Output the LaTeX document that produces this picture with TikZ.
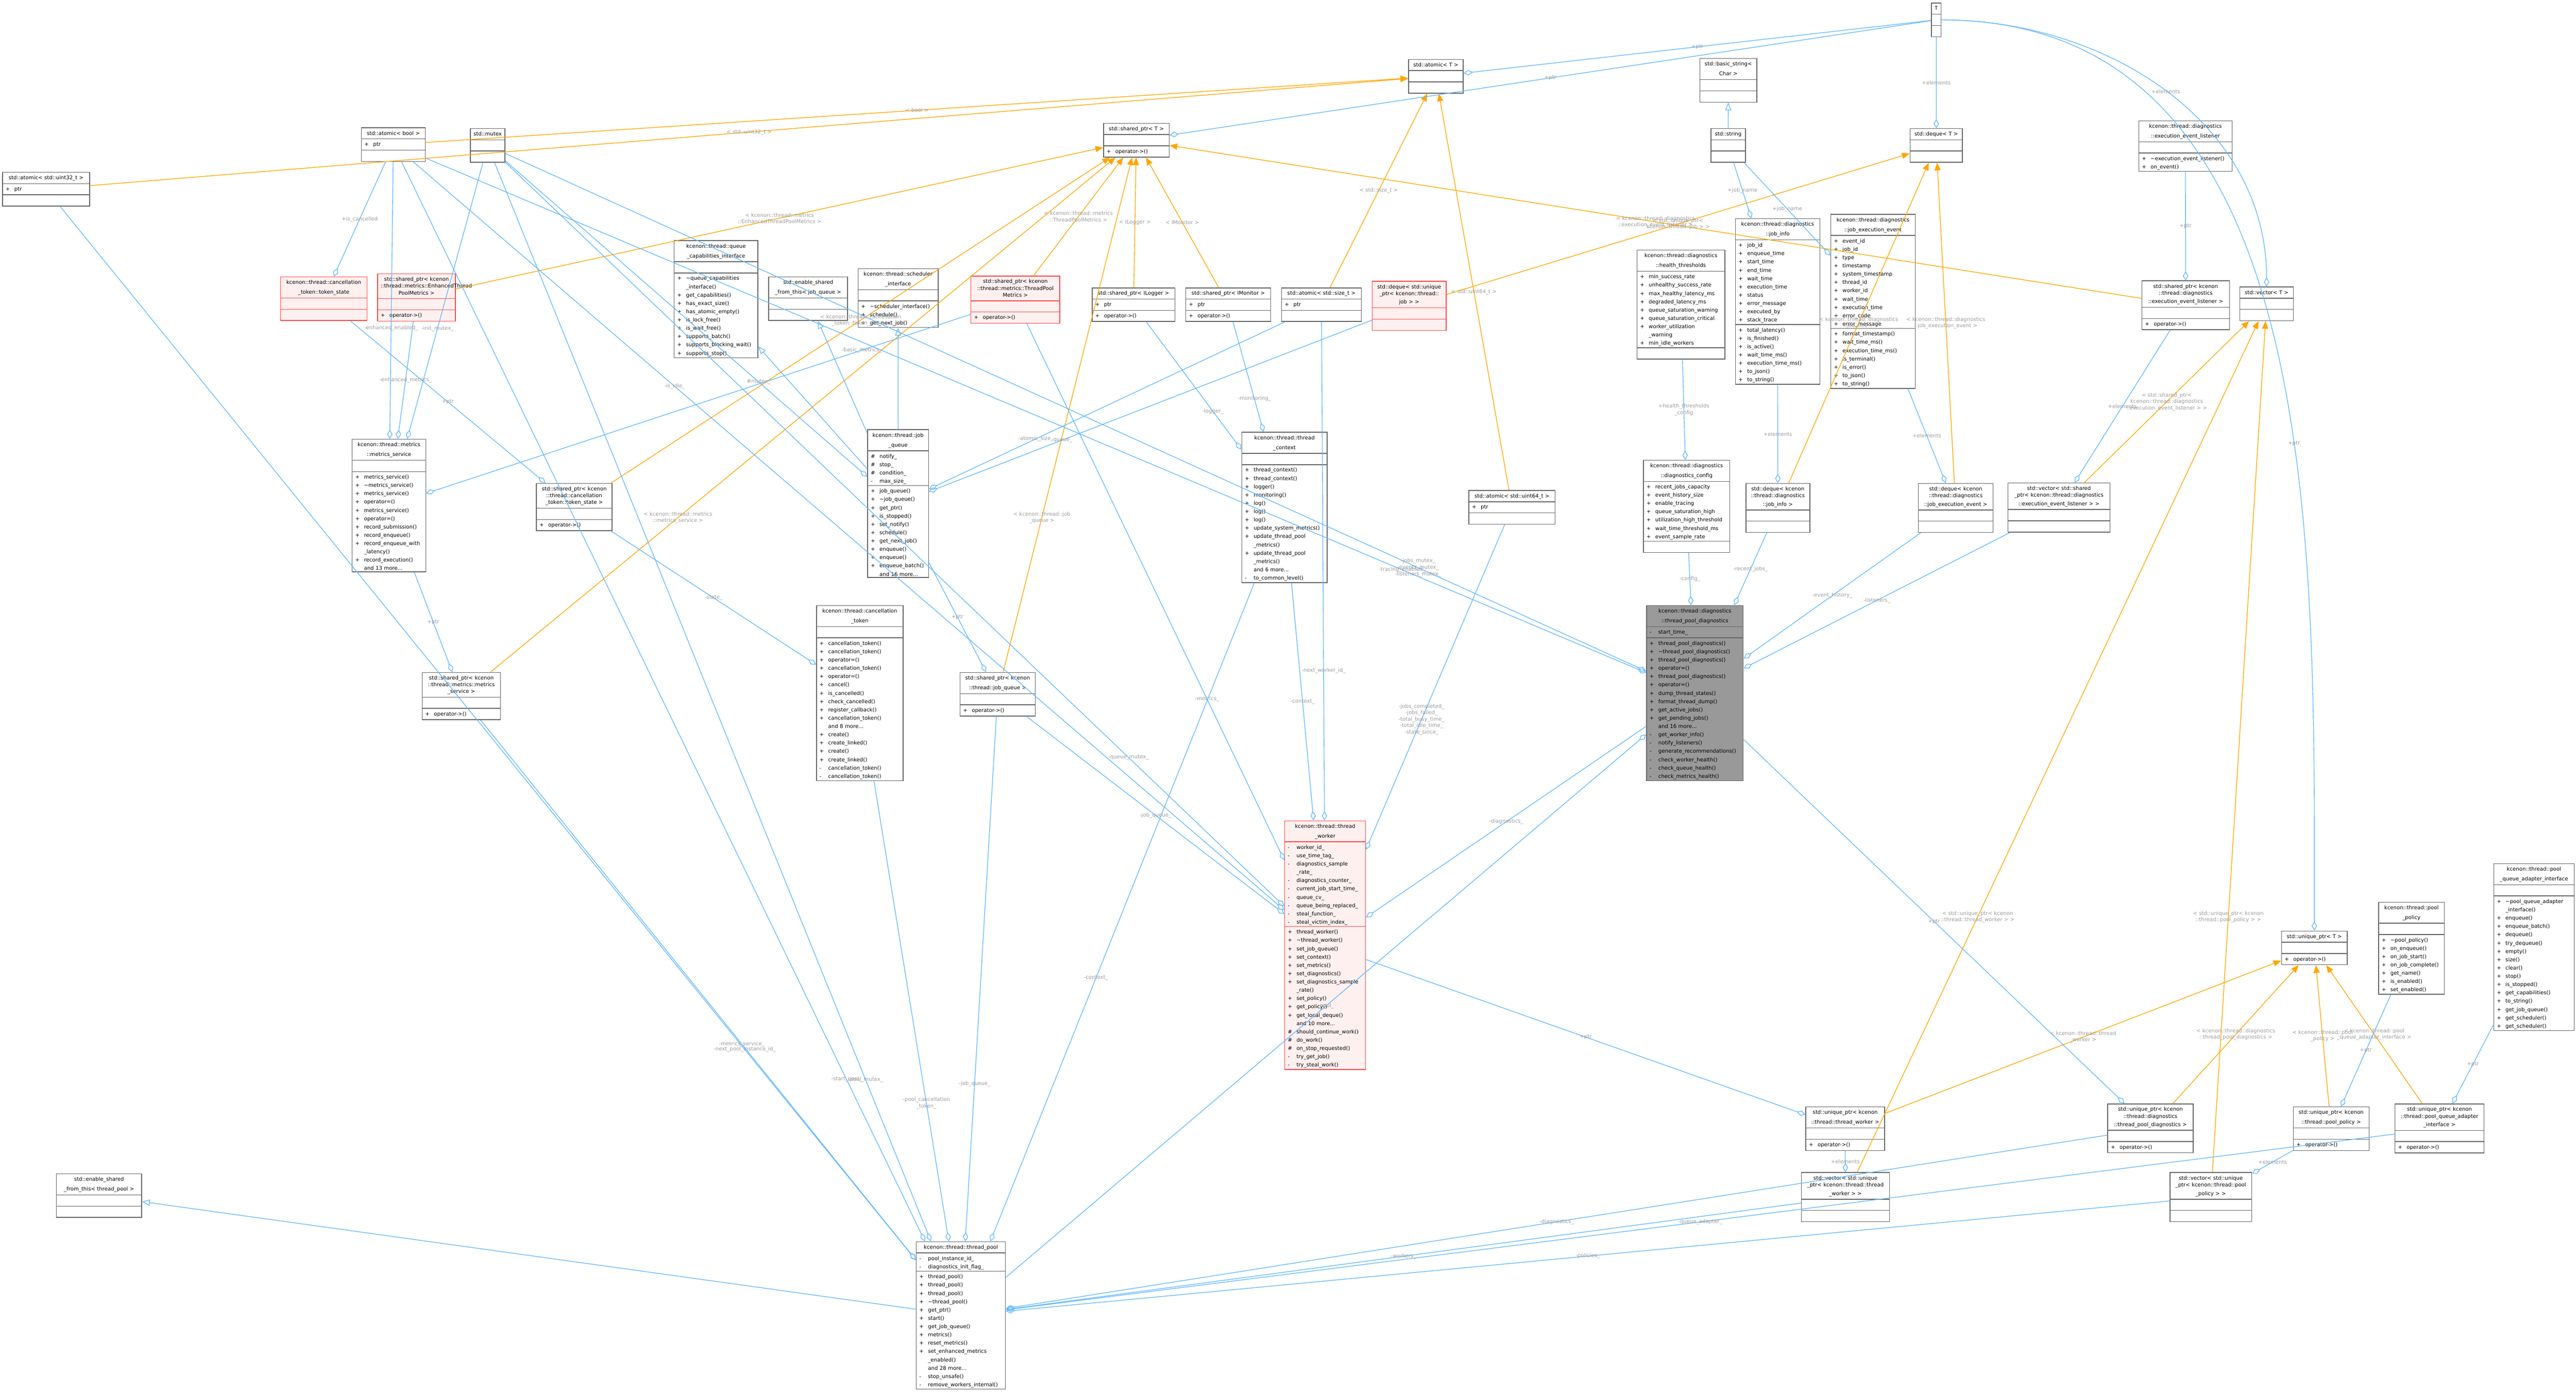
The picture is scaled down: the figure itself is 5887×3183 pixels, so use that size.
\documentclass[tikz,border=0pt]{standalone}
\usepackage{fontspec}
\setmainfont{DejaVu Sans}
\usetikzlibrary{shapes.multipart,arrows.meta}
\definecolor{ublue}{HTML}{63B8FF}
\definecolor{uorange}{HTML}{FFA500}
\definecolor{ulbl}{HTML}{9A9A9A}
\definecolor{uedge}{HTML}{666666}
\definecolor{ured}{HTML}{FF4444}
\definecolor{upink}{HTML}{FFF0F0}
\definecolor{ugray}{HTML}{999999}
% member rows
\newcommand{\pb}[1]{\makebox[2mm][l]{+}#1}
\newcommand{\pv}[1]{\makebox[2mm][l]{-}#1}
\newcommand{\pt}[1]{\makebox[2mm][l]{\#}#1}
\newcommand{\pn}[1]{\makebox[2mm][l]{}#1}
\tikzset{
  cls/.style={rectangle split,rectangle split parts=3,draw=uedge,fill=white,line width=0.5pt,
    anchor=north west,inner xsep=2pt,inner ysep=0.7pt,
    font=\fontsize{3.4}{5.4}\selectfont},
  hot/.style={draw=ured,fill=upink},
  main/.style={fill=ugray},
  use/.style={draw=ublue,line width=0.45pt,-{Diamond[open,length=6pt,width=3.5pt]}},
  inh/.style={draw=ublue,line width=0.45pt,-{Triangle[open,length=5pt,width=4pt]}},
  tmpl/.style={draw=uorange,line width=0.45pt,-{Triangle[length=5pt,width=4pt]}},
  lbl/.style={text=ulbl,font=\fontsize{3.4}{4.2}\selectfont,align=center}
}
% name, x, y, width (px), title, attributes, operations, style
\newcommand{\umlclass}[8]{%
  \pgfmathsetmacro\clsw{#4*0.01-0.14}%
  \node[cls,#8,text width=\clsw cm] (#1) at (#2,#3)
    {\parbox{\clsw cm}{\centering\baselineskip=4.4pt\strut #5\strut}%
     \nodepart{two}\strut #6\nodepart{three}\strut #7};}
\begin{document}
\begin{tikzpicture}[x=0.01cm,y=-0.01cm]
\useasboundingbox (0,0) rectangle (5887,3183);

% templates and std types
\umlclass{T}{4413}{6}{22}{T}{}{}{}
\umlclass{atomT}{3218}{135}{125}{std::atomic< T >}{}{}{}
\umlclass{sptrT}{2521}{281}{150}{std::shared\_ptr< T >}{}{\pb{operator->()}}{}
\umlclass{bstr}{3884}{133}{130}{std::basic\_string<\\Char >}{}{}{}
\umlclass{stdstr}{3909}{293}{79}{std::string}{}{}{}
\umlclass{dequeT}{4364}{293}{120}{std::deque< T >}{}{}{}
\umlclass{vectorT}{5118}{655}{122}{std::vector< T >}{}{}{}
\umlclass{uptrT}{5213}{2127}{150}{std::unique\_ptr< T >}{}{\pb{operator->()}}{}
\umlclass{au32}{5}{393}{199}{std::atomic< std::uint32\_t >}{\pb{ptr}}{}{}
\umlclass{abool}{825}{291}{146}{std::atomic< bool >}{\pb{ptr}}{}{}
\umlclass{mutex}{1074}{293}{79}{std::mutex}{}{}{}
\umlclass{asize}{2928}{657}{182}{std::atomic< std::size\_t >}{\pb{ptr}}{}{}
\umlclass{au64}{3356}{1120}{197}{std::atomic< std::uint64\_t >}{\pb{ptr}}{}{}

% shared pointers
\umlclass{sptrEnh}{862}{625}{178}{std::shared\_ptr< kcenon\\::thread::metrics::EnhancedThread\\PoolMetrics >}{}{\pb{operator->()}}{hot}
\umlclass{sptrTPM}{2218}{630}{203}{std::shared\_ptr< kcenon\\::thread::metrics::ThreadPool\\Metrics >}{}{\pb{operator->()}}{hot}
\umlclass{sptrLog}{2495}{657}{189}{std::shared\_ptr< ILogger >}{\pb{ptr}}{\pb{operator->()}}{}
\umlclass{sptrMon}{2709}{657}{194}{std::shared\_ptr< IMonitor >}{\pb{ptr}}{\pb{operator->()}}{}
\umlclass{dqjob}{3135}{642}{169}{std::deque< std::unique\\\_ptr< kcenon::thread::\\job > >}{}{}{hot}
\umlclass{sptrTok}{1225}{1104}{173}{std::shared\_ptr< kcenon\\::thread::cancellation\\\_token::token\_state >}{}{\pb{operator->()}}{}
\umlclass{sptrMS}{964}{1536}{179}{std::shared\_ptr< kcenon\\::thread::metrics::metrics\\\_service >}{}{\pb{operator->()}}{}
\umlclass{sptrJQ}{2193}{1536}{172}{std::shared\_ptr< kcenon\\::thread::job\_queue >}{}{\pb{operator->()}}{}

% interfaces
\umlclass{tokstate}{640}{632}{198}{kcenon::thread::cancellation\\\_token::token\_state}{}{}{hot}
\umlclass{qcap}{1540}{549}{191}{kcenon::thread::queue\\\_capabilities\_interface}{}{\pb{\textasciitilde queue\_capabilities\\\pn{\_interface()}}\\\pb{get\_capabilities()}\\\pb{has\_exact\_size()}\\\pb{has\_atomic\_empty()}\\\pb{is\_lock\_free()}\\\pb{is\_wait\_free()}\\\pb{supports\_batch()}\\\pb{supports\_blocking\_wait()}\\\pb{supports\_stop()}}{}
\umlclass{esfJQ}{1756}{632}{180}{std::enable\_shared\\\_from\_this< job\_queue >}{}{}{}
\umlclass{sched}{1960}{613}{183}{kcenon::thread::scheduler\\\_interface}{}{\pb{\textasciitilde scheduler\_interface()}\\\pb{schedule()}\\\pb{get\_next\_job()}}{}
\umlclass{esfTP}{128}{2682}{195}{std::enable\_shared\\\_from\_this< thread\_pool >}{}{}{}

% diagnostics data
\umlclass{listener}{4887}{275}{213}{kcenon::thread::diagnostics\\::execution\_event\_listener}{}{\pb{\textasciitilde execution\_event\_listener()}\\\pb{on\_event()}}{}
\umlclass{slistener}{4894}{641}{200}{std::shared\_ptr< kcenon\\::thread::diagnostics\\::execution\_event\_listener >}{}{\pb{operator->()}}{}
\umlclass{hthr}{3740}{571}{201}{kcenon::thread::diagnostics\\::health\_thresholds}{\pb{min\_success\_rate}\\\pb{unhealthy\_success\_rate}\\\pb{max\_healthy\_latency\_ms}\\\pb{degraded\_latency\_ms}\\\pb{queue\_saturation\_warning}\\\pb{queue\_saturation\_critical}\\\pb{worker\_utilization}\\\pn{\_warning}\\\pb{min\_idle\_workers}}{}{}
\umlclass{jinfo}{3965}{499}{193}{kcenon::thread::diagnostics\\::job\_info}{\pb{job\_id}\\\pb{enqueue\_time}\\\pb{start\_time}\\\pb{end\_time}\\\pb{wait\_time}\\\pb{execution\_time}\\\pb{status}\\\pb{error\_message}\\\pb{executed\_by}\\\pb{stack\_trace}}{\pb{total\_latency()}\\\pb{is\_finished()}\\\pb{is\_active()}\\\pb{wait\_time\_ms()}\\\pb{execution\_time\_ms()}\\\pb{to\_json()}\\\pb{to\_string()}}{}
\umlclass{jevent}{4183}{489}{193}{kcenon::thread::diagnostics\\::job\_execution\_event}{\pb{event\_id}\\\pb{job\_id}\\\pb{type}\\\pb{timestamp}\\\pb{system\_timestamp}\\\pb{thread\_id}\\\pb{worker\_id}\\\pb{wait\_time}\\\pb{execution\_time}\\\pb{error\_code}\\\pb{error\_message}}{\pb{format\_timestamp()}\\\pb{wait\_time\_ms()}\\\pb{execution\_time\_ms()}\\\pb{is\_terminal()}\\\pb{is\_error()}\\\pb{to\_json()}\\\pb{to\_string()}}{}
\umlclass{dconf}{3755}{1051}{197}{kcenon::thread::diagnostics\\::diagnostics\_config}{\pb{recent\_jobs\_capacity}\\\pb{event\_history\_size}\\\pb{enable\_tracing}\\\pb{queue\_saturation\_high}\\\pb{utilization\_high\_threshold}\\\pb{wait\_time\_threshold\_ms}\\\pb{event\_sample\_rate}}{}{}
\umlclass{dqinfo}{3989}{1104}{146}{std::deque< kcenon\\::thread::diagnostics\\::job\_info >}{}{}{}
\umlclass{dqevent}{4383}{1104}{171}{std::deque< kcenon\\::thread::diagnostics\\::job\_execution\_event >}{}{}{}
\umlclass{vlisten}{4588}{1103}{233}{std::vector< std::shared\\\_ptr< kcenon::thread::diagnostics\\::execution\_event\_listener > >}{}{}{}

% core classes
\umlclass{msvc}{804}{1003}{168}{kcenon::thread::metrics\\::metrics\_service}{}{\pb{metrics\_service()}\\\pb{\textasciitilde metrics\_service()}\\\pb{metrics\_service()}\\\pb{operator=()}\\\pb{metrics\_service()}\\\pb{operator=()}\\\pb{record\_submission()}\\\pb{record\_enqueue()}\\\pb{record\_enqueue\_with}\\\pn{\_latency()}\\\pb{record\_execution()}\\\pn{and 13 more...}}{}
\umlclass{jqueue}{1982}{981}{139}{kcenon::thread::job\\\_queue}{\pt{notify\_}\\\pt{stop\_}\\\pt{condition\_}\\\pv{max\_size\_}}{\pb{job\_queue()}\\\pb{\textasciitilde job\_queue()}\\\pb{get\_ptr()}\\\pb{is\_stopped()}\\\pb{set\_notify()}\\\pb{schedule()}\\\pb{get\_next\_job()}\\\pb{enqueue()}\\\pb{enqueue()}\\\pb{enqueue\_batch()}\\\pn{and 16 more...}}{}
\umlclass{tctx}{2837}{987}{195}{kcenon::thread::thread\\\_context}{}{\pb{thread\_context()}\\\pb{thread\_context()}\\\pb{logger()}\\\pb{monitoring()}\\\pb{log()}\\\pb{log()}\\\pb{log()}\\\pb{update\_system\_metrics()}\\\pb{update\_thread\_pool}\\\pn{\_metrics()}\\\pb{update\_thread\_pool}\\\pn{\_metrics()}\\\pn{and 6 more...}\\\pv{to\_common\_level()}}{}
\umlclass{ctoken}{1865}{1383}{198}{kcenon::thread::cancellation\\\_token}{}{\pb{cancellation\_token()}\\\pb{cancellation\_token()}\\\pb{operator=()}\\\pb{cancellation\_token()}\\\pb{operator=()}\\\pb{cancel()}\\\pb{is\_cancelled()}\\\pb{check\_cancelled()}\\\pb{register\_callback()}\\\pb{cancellation\_token()}\\\pn{and 8 more...}\\\pb{create()}\\\pb{create\_linked()}\\\pb{create()}\\\pb{create\_linked()}\\\pv{cancellation\_token()}\\\pv{cancellation\_token()}}{}
\umlclass{tdiag}{3762}{1383}{221}{kcenon::thread::diagnostics\\::thread\_pool\_diagnostics}{\pv{start\_time\_}}{\pb{thread\_pool\_diagnostics()}\\\pb{\textasciitilde thread\_pool\_diagnostics()}\\\pb{thread\_pool\_diagnostics()}\\\pb{operator=()}\\\pb{thread\_pool\_diagnostics()}\\\pb{operator=()}\\\pb{dump\_thread\_states()}\\\pb{format\_thread\_dump()}\\\pb{get\_active\_jobs()}\\\pb{get\_pending\_jobs()}\\\pn{and 16 more...}\\\pv{get\_worker\_info()}\\\pv{notify\_listeners()}\\\pv{generate\_recommendations()}\\\pv{check\_worker\_health()}\\\pv{check\_queue\_health()}\\\pv{check\_metrics\_health()}}{main}
\umlclass{tworker}{2935}{1875}{185}{kcenon::thread::thread\\\_worker}{\pv{worker\_id\_}\\\pv{use\_time\_tag\_}\\\pv{diagnostics\_sample}\\\pn{\_rate\_}\\\pv{diagnostics\_counter\_}\\\pv{current\_job\_start\_time\_}\\\pv{queue\_cv\_}\\\pv{queue\_being\_replaced\_}\\\pv{steal\_function\_}\\\pv{steal\_victim\_index\_}}{\pb{thread\_worker()}\\\pb{\textasciitilde thread\_worker()}\\\pb{set\_job\_queue()}\\\pb{set\_context()}\\\pb{set\_metrics()}\\\pb{set\_diagnostics()}\\\pb{set\_diagnostics\_sample}\\\pn{\_rate()}\\\pb{set\_policy()}\\\pb{get\_policy()}\\\pb{get\_local\_deque()}\\\pn{and 10 more...}\\\pt{should\_continue\_work()}\\\pt{do\_work()}\\\pt{on\_stop\_requested()}\\\pv{try\_get\_job()}\\\pv{try\_steal\_work()}}{hot}
\umlclass{policy}{5435}{2061}{150}{kcenon::thread::pool\\\_policy}{}{\pb{\textasciitilde pool\_policy()}\\\pb{on\_enqueue()}\\\pb{on\_job\_start()}\\\pb{on\_job\_complete()}\\\pb{get\_name()}\\\pb{is\_enabled()}\\\pb{set\_enabled()}}{}
\umlclass{adapter}{5698}{1973}{184}{kcenon::thread::pool\\\_queue\_adapter\_interface}{}{\pb{\textasciitilde pool\_queue\_adapter}\\\pn{\_interface()}\\\pb{enqueue()}\\\pb{enqueue\_batch()}\\\pb{dequeue()}\\\pb{try\_dequeue()}\\\pb{empty()}\\\pb{size()}\\\pb{clear()}\\\pb{stop()}\\\pb{is\_stopped()}\\\pb{get\_capabilities()}\\\pb{to\_string()}\\\pb{get\_job\_queue()}\\\pb{get\_scheduler()}\\\pb{get\_scheduler()}}{}
\umlclass{uptrW}{4126}{2529}{180}{std::unique\_ptr< kcenon\\::thread::thread\_worker >}{}{\pb{operator->()}}{}
\umlclass{uptrD}{4816}{2522}{195}{std::unique\_ptr< kcenon\\::thread::diagnostics\\::thread\_pool\_diagnostics >}{}{\pb{operator->()}}{}
\umlclass{uptrP}{5240}{2529}{173}{std::unique\_ptr< kcenon\\::thread::pool\_policy >}{}{\pb{operator->()}}{}
\umlclass{uptrA}{5472}{2522}{204}{std::unique\_ptr< kcenon\\::thread::pool\_queue\_adapter\\\_interface >}{}{\pb{operator->()}}{}
\umlclass{vW}{4116}{2679}{201}{std::vector< std::unique\\\_ptr< kcenon::thread::thread\\\_worker > >}{}{}{}
\umlclass{vP}{4958}{2679}{187}{std::vector< std::unique\\\_ptr< kcenon::thread::pool\\\_policy > >}{}{}{}
\umlclass{tpool}{2093}{2837}{204}{kcenon::thread::thread\_pool}{\pv{pool\_instance\_id\_}\\\pv{diagnostics\_init\_flag\_}}{\pb{thread\_pool()}\\\pb{thread\_pool()}\\\pb{thread\_pool()}\\\pb{\textasciitilde thread\_pool()}\\\pb{get\_ptr()}\\\pb{start()}\\\pb{get\_job\_queue()}\\\pb{metrics()}\\\pb{reset\_metrics()}\\\pb{set\_enhanced\_metrics}\\\pn{\_enabled()}\\\pn{and 28 more...}\\\pv{stop\_unsafe()}\\\pv{remove\_workers\_internal()}}{}

% template instantiations
\draw[tmpl] (au32) -- node[lbl]{< std::uint32\_t >} (atomT);
\draw[tmpl] (abool) -- node[lbl]{< bool >} (atomT);
\draw[tmpl] (asize) -- node[lbl]{< std::size\_t >} (atomT);
\draw[tmpl] (au64) -- node[lbl]{< std::uint64\_t >} (atomT);
\draw[tmpl] (sptrEnh) -- node[lbl]{< kcenon::thread::metrics\\::EnhancedThreadPoolMetrics >} (sptrT);
\draw[tmpl] (sptrTok) -- node[lbl]{< kcenon::thread::cancellation\\\_token::token\_state >} (sptrT);
\draw[tmpl] (sptrMS) -- node[lbl,pos=0.3]{< kcenon::thread::metrics\\::metrics\_service >} (sptrT);
\draw[tmpl] (sptrTPM) -- node[lbl]{< kcenon::thread::metrics\\::ThreadPoolMetrics >} (sptrT);
\draw[tmpl] (sptrLog) -- node[lbl]{< ILogger >} (sptrT);
\draw[tmpl] (sptrMon) -- node[lbl]{< IMonitor >} (sptrT);
\draw[tmpl] (sptrJQ) -- node[lbl,pos=0.3]{< kcenon::thread::job\\\_queue >} (sptrT);
\draw[tmpl] (slistener) -- node[lbl]{< kcenon::thread::diagnostics\\::execution\_event\_listener >} (sptrT);
\draw[tmpl] (dqjob) -- node[lbl]{< std::unique\_ptr<\\kcenon::thread::job > >} (dequeT);
\draw[tmpl] (dqinfo) -- node[lbl]{< kcenon::thread::diagnostics\\::job\_info >} (dequeT);
\draw[tmpl] (dqevent) -- node[lbl]{< kcenon::thread::diagnostics\\::job\_execution\_event >} (dequeT);
\draw[tmpl] (vlisten) -- node[lbl]{< std::shared\_ptr<\\kcenon::thread::diagnostics\\::execution\_event\_listener > >} (vectorT);
\draw[tmpl] (vW) -- node[lbl,pos=0.3]{< std::unique\_ptr< kcenon\\::thread::thread\_worker > >} (vectorT);
\draw[tmpl] (vP) -- node[lbl,pos=0.3]{< std::unique\_ptr< kcenon\\::thread::pool\_policy > >} (vectorT);
\draw[tmpl] (uptrW) -- node[lbl]{< kcenon::thread::thread\\\_worker >} (uptrT);
\draw[tmpl] (uptrD) -- node[lbl]{< kcenon::thread::diagnostics\\::thread\_pool\_diagnostics >} (uptrT);
\draw[tmpl] (uptrP) -- node[lbl]{< kcenon::thread::pool\\\_policy >} (uptrT);
\draw[tmpl] (uptrA) -- node[lbl]{< kcenon::thread::pool\\\_queue\_adapter\_interface >} (uptrT);

% inheritance
\draw[inh] (stdstr) -- (bstr);
\draw[inh] (jqueue) -- (qcap);
\draw[inh] (jqueue) -- (esfJQ);
\draw[inh] (jqueue) -- (sched);
\draw[inh] (tpool) -- (esfTP);

% members
\draw[use] (T) -- node[lbl]{+ptr} (atomT);
\draw[use] (T) -- node[lbl]{+ptr} (sptrT);
\draw[use] (T) -- node[lbl]{+elements} (dequeT);
\draw[use] (T) to[out=0,in=90] node[lbl]{+elements} (vectorT);
\draw[use] (T) to[out=0,in=90] node[lbl,pos=0.6]{+ptr} (uptrT);
\draw[use] (stdstr) -- node[lbl]{+job\_name} (jinfo);
\draw[use] (stdstr) -- node[lbl]{+job\_name} (jevent);
\draw[use] (hthr) -- node[lbl]{+health\_thresholds\\\_config} (dconf);
\draw[use] (jinfo) -- node[lbl]{+elements} (dqinfo);
\draw[use] (jevent) -- node[lbl]{+elements} (dqevent);
\draw[use] (listener) -- node[lbl]{+ptr} (slistener);
\draw[use] (slistener) -- node[lbl]{+elements} (vlisten);
\draw[use] (abool) -- node[lbl]{+is\_cancelled} (tokstate);
\draw[use] (tokstate) -- node[lbl]{+ptr} (sptrTok);
\draw[use] (sptrTok) -- node[lbl]{-state\_} (ctoken);
\draw[use] (sptrEnh) -- node[lbl]{-enhanced\_metrics\_} (msvc);
\draw[use] (sptrTPM) -- node[lbl,pos=0.2]{-basic\_metrics\_} (msvc);
\draw[use] (abool) -- node[lbl,pos=0.6]{-enhanced\_enabled\_} (msvc);
\draw[use] (mutex) -- node[lbl,pos=0.6]{-init\_mutex\_} (msvc);
\draw[use] (msvc) -- node[lbl]{+ptr} (sptrMS);
\draw[use] (asize) -- node[lbl,pos=0.7]{-atomic\_size\_} (jqueue);
\draw[use] (dqjob) -- node[lbl,pos=0.7]{-queue\_} (jqueue);
\draw[use] (mutex) -- node[lbl,pos=0.7]{\#mutex\_} (jqueue);
\draw[use] (jqueue) -- node[lbl]{+ptr} (sptrJQ);
\draw[use] (sptrLog) -- node[lbl,pos=0.7]{-logger\_} (tctx);
\draw[use] (sptrMon) -- node[lbl,pos=0.7]{-monitoring\_} (tctx);
\draw[use] (tctx) -- node[lbl]{-context\_} (tworker);
\draw[use] (sptrJQ) -- node[lbl]{-job\_queue\_} (tworker);
\draw[use] (sptrTPM) -- node[lbl,pos=0.7]{-metrics\_} (tworker);
\draw[use] (abool) -- node[lbl,pos=0.3]{-is\_idle\_} (tworker);
\draw[use] (asize) -- node[lbl,pos=0.7]{-next\_worker\_id\_} (tworker);
\draw[use] (mutex) -- node[lbl,pos=0.8]{-queue\_mutex\_} (tworker);
\draw[use] (au64) -- node[lbl,pos=0.6]{-jobs\_completed\_\\-jobs\_failed\_\\-total\_busy\_time\_\\-total\_idle\_time\_\\-state\_since\_} (tworker);
\draw[use] (tdiag) -- node[lbl]{-diagnostics\_} (tworker);
\draw[use] (dconf) -- node[lbl]{-config\_} (tdiag);
\draw[use] (dqinfo) -- node[lbl]{-recent\_jobs\_} (tdiag);
\draw[use] (dqevent) -- node[lbl]{-event\_history\_} (tdiag);
\draw[use] (vlisten) -- node[lbl]{-listeners\_} (tdiag);
\draw[use] (abool) -- node[lbl,pos=0.8]{-tracing\_enabled\_} (tdiag);
\draw[use] (mutex) -- node[lbl,pos=0.8]{-jobs\_mutex\_\\-events\_mutex\_\\-listeners\_mutex\_} (tdiag);
\draw[use] (tpool) -- node[lbl]{-pool\_} (tdiag);
\draw[use] (tworker) -- node[lbl]{+ptr} (uptrW);
\draw[use] (tdiag) -- node[lbl]{+ptr} (uptrD);
\draw[use] (policy) -- node[lbl]{+ptr} (uptrP);
\draw[use] (adapter) -- node[lbl]{+ptr} (uptrA);
\draw[use] (uptrW) -- node[lbl]{+elements} (vW);
\draw[use] (uptrP) -- node[lbl]{+elements} (vP);
\draw[use] (au32) -- node[lbl,pos=0.8]{-next\_pool\_instance\_id\_} (tpool);
\draw[use] (abool) -- node[lbl,pos=0.85]{-start\_pool\_} (tpool);
\draw[use] (mutex) -- node[lbl,pos=0.85]{-pool\_mutex\_} (tpool);
\draw[use] (ctoken) -- node[lbl,pos=0.7]{-pool\_cancellation\\\_token\_} (tpool);
\draw[use] (sptrJQ) -- node[lbl,pos=0.7]{-job\_queue\_} (tpool);
\draw[use] (sptrMS) -- node[lbl,pos=0.6]{-metrics\_service\_} (tpool);
\draw[use] (tctx) -- node[lbl,pos=0.6]{-context\_} (tpool);
\draw[use] (vW) -- node[lbl]{-workers\_} (tpool);
\draw[use] (uptrD) -- node[lbl]{-diagnostics\_} (tpool);
\draw[use] (vP) -- node[lbl]{-policies\_} (tpool);
\draw[use] (uptrA) -- node[lbl]{-queue\_adapter\_} (tpool);
\end{tikzpicture}
\end{document}
